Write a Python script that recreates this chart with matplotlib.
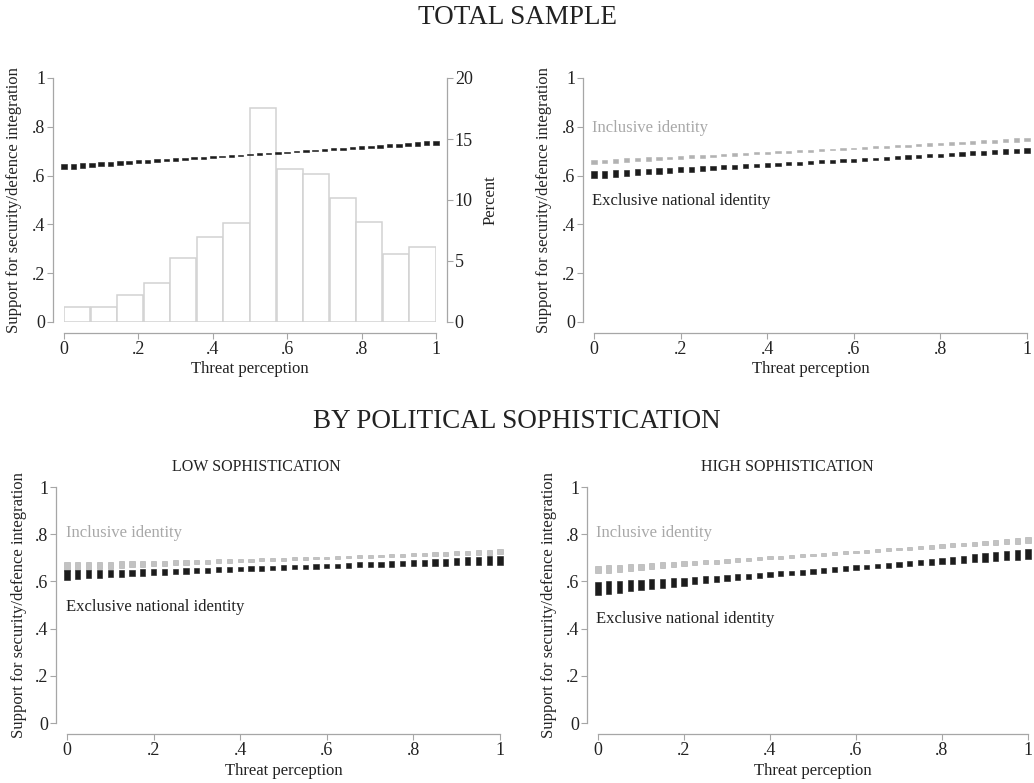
import numpy as np
import matplotlib
matplotlib.use("Agg")
import matplotlib.pyplot as plt

plt.rcParams['font.family'] = ['Liberation Serif', 'DejaVu Serif']

# threat perception values at which the margins were evaluated
threat = [0.0, 0.025, 0.05, 0.075, 0.1, 0.125, 0.15, 0.175, 0.2, 0.225,
          0.25, 0.275, 0.3, 0.325, 0.35, 0.375, 0.4, 0.425, 0.45, 0.475,
          0.5, 0.525, 0.55, 0.575, 0.6, 0.625, 0.65, 0.675, 0.7, 0.725,
          0.75, 0.775, 0.8, 0.825, 0.85, 0.875, 0.9, 0.925, 0.95, 0.975, 1.0]

# histogram of threat perception (percent)
hist_edges = [0, .0714, .1429, .2143, .2857, .3571, .4286, .5,
              .5714, .6429, .7143, .7857, .8571, .9286, 1]
hist_pct = [1.2, 1.2, 2.25, 3.2, 5.25, 7.0, 8.15, 17.5,
            12.5, 12.1, 10.15, 8.2, 5.55, 6.15]

# total sample: predicted support and half-width of the 95% CI
total_m = [.636, .638, .641, .643, .646, .648, .651, .653, .656, .658,
           .661, .663, .666, .668, .671, .673, .676, .678, .681, .683,
           .686, .688, .690, .693, .695, .698, .700, .703, .705, .708,
           .710, .713, .715, .718, .720, .723, .725, .728, .730, .733, .735]
total_ci = [.0106, .0099, .0093, .0086, .0081, .0075, .0070, .0065, .0061, .0056,
            .0053, .0049, .0046, .0043, .0040, .0038, .0036, .0034, .0033, .0031,
            .0031, .0030, .0030, .0030, .0031, .0031, .0033, .0034, .0036, .0038,
            .0040, .0043, .0046, .0049, .0053, .0056, .0061, .0065, .0070, .0075, .0081]

# total sample by identity
incl_m = [.656, .658, .661, .663, .665, .668, .670, .672, .674, .677,
          .679, .681, .684, .686, .688, .691, .693, .695, .697, .700,
          .702, .704, .707, .709, .711, .714, .716, .718, .720, .723,
          .725, .727, .730, .732, .734, .737, .739, .741, .743, .746, .748]
incl_ci = [.0082, .0079, .0075, .0072, .0068, .0065, .0062, .0060, .0057, .0055,
           .0053, .0051, .0049, .0047, .0046, .0044, .0043, .0042, .0041, .0041,
           .0040, .0040, .0040, .0040, .0040, .0041, .0041, .0042, .0043, .0044,
           .0046, .0047, .0049, .0051, .0053, .0055, .0057, .0060, .0062, .0065, .0068]
excl_m = [.604, .606, .609, .611, .614, .616, .619, .621, .624, .626,
          .629, .631, .634, .636, .639, .641, .644, .646, .649, .651,
          .654, .656, .658, .661, .663, .666, .668, .671, .673, .676,
          .678, .681, .683, .686, .688, .691, .693, .696, .698, .701, .703]
excl_ci = [.0145, .0138, .0131, .0125, .0119, .0113, .0107, .0102, .0097, .0093,
           .0088, .0084, .0081, .0077, .0074, .0072, .0069, .0067, .0065, .0063,
           .0062, .0061, .0060, .0060, .0060, .0060, .0061, .0062, .0063, .0064,
           .0066, .0068, .0070, .0073, .0076, .0079, .0083, .0087, .0091, .0095, .0100]

# low sophistication
low_incl_m = [.663, .665, .666, .668, .669, .671, .672, .674, .675, .677,
              .679, .680, .682, .683, .685, .686, .688, .689, .691, .692,
              .694, .696, .697, .699, .700, .702, .703, .705, .706, .708,
              .710, .711, .713, .714, .716, .717, .719, .720, .722, .723, .725]
low_incl_ci = [.0185, .0175, .0165, .0155, .0146, .0138, .0129, .0122, .0114, .0107,
               .0101, .0095, .0089, .0084, .0079, .0075, .0071, .0068, .0064, .0062,
               .0060, .0058, .0056, .0056, .0055, .0055, .0055, .0056, .0057, .0059,
               .0061, .0064, .0066, .0070, .0073, .0078, .0082, .0087, .0093, .0099, .0105]
low_excl_m = [.627, .629, .630, .632, .633, .635, .636, .638, .640, .641,
              .643, .644, .646, .647, .649, .651, .652, .654, .655, .657,
              .659, .660, .662, .663, .665, .666, .668, .670, .671, .673,
              .674, .676, .677, .679, .681, .682, .684, .685, .687, .688, .690]
low_excl_ci = [.0195, .0185, .0175, .0166, .0157, .0149, .0141, .0134, .0128, .0122,
               .0116, .0111, .0107, .0103, .0099, .0097, .0094, .0092, .0091, .0090,
               .0090, .0090, .0091, .0092, .0094, .0097, .0099, .0103, .0107, .0111,
               .0116, .0122, .0128, .0134, .0141, .0149, .0157, .0166, .0175, .0185, .0195]

# high sophistication
high_incl_m = [.650, .653, .656, .659, .662, .666, .669, .672, .675, .678,
               .681, .684, .687, .690, .694, .697, .700, .703, .706, .709,
               .712, .715, .718, .722, .725, .728, .731, .734, .737, .740,
               .743, .746, .750, .753, .756, .759, .762, .765, .768, .771, .775]
high_incl_ci = [.0165, .0156, .0147, .0138, .0130, .0122, .0115, .0108, .0102, .0096,
                .0090, .0085, .0080, .0076, .0072, .0068, .0065, .0063, .0060, .0058,
                .0057, .0056, .0055, .0055, .0055, .0056, .0057, .0058, .0060, .0063,
                .0065, .0068, .0072, .0076, .0080, .0085, .0090, .0096, .0102, .0108, .0115]
high_excl_m = [.570, .574, .577, .581, .585, .588, .592, .596, .599, .603,
               .607, .610, .614, .617, .621, .625, .628, .632, .636, .639,
               .643, .647, .650, .654, .658, .661, .665, .669, .672, .676,
               .680, .683, .687, .690, .694, .698, .701, .705, .709, .712, .716]
high_excl_ci = [.0280, .0263, .0247, .0232, .0218, .0204, .0191, .0179, .0168, .0158,
                .0148, .0139, .0131, .0124, .0118, .0112, .0107, .0103, .0100, .0098,
                .0096, .0095, .0095, .0096, .0097, .0100, .0103, .0107, .0112, .0117,
                .0123, .0131, .0138, .0147, .0157, .0167, .0178, .0190, .0203, .0216, .0230]

ticks = [0, .2, .4, .6, .8, 1]
tick_labels = ['0', '.2', '.4', '.6', '.8', '1']

DARK = '#1c1c1c'
GREY = '#b2b2b2'
AXIS = '#a6a6a6'
TEXT = '#222222'
W, H = 1034, 783


def px_axes(fig, x0, x1, ytop, ybot):
    # place an axes so that data 0..1 sits on the given pixel box
    return fig.add_axes([x0 / W, (H - ybot) / H, (x1 - x0) / W, (ybot - ytop) / H])


def style(ax, ylab_x, xlab_y):
    ax.set_xlim(0, 1)
    ax.set_ylim(0, 1)
    ax.patch.set_visible(False)
    for s in ['top', 'right']:
        ax.spines[s].set_visible(False)
    for s in ['left', 'bottom']:
        ax.spines[s].set_position(('outward', 8))
        ax.spines[s].set_bounds(0, 1)
        ax.spines[s].set_color(AXIS)
        ax.spines[s].set_linewidth(0.9)
    ax.set_xticks(ticks)
    ax.set_xticklabels(tick_labels)
    ax.set_yticks(ticks)
    ax.set_yticklabels(tick_labels)
    ax.tick_params(direction='out', length=4, width=0.8, color=AXIS,
                   labelsize=13, labelcolor=TEXT, pad=1.5)
    ax.set_ylabel('Support for security/defence integration', fontsize=12, color=TEXT)
    ax.set_xlabel('Threat perception', fontsize=12, color=TEXT)
    ax.yaxis.set_label_coords(ylab_x, 0.5)
    ax.xaxis.set_label_coords(0.5, xlab_y)


def draw_ci(ax, margin, half, width, face, edge):
    m = np.array(margin)
    h = np.array(half)
    ax.bar(threat, 2 * h, bottom=m - h, width=width, color=face,
           edgecolor=edge, linewidth=0.4, clip_on=False, zorder=3)


fig = plt.figure(figsize=(W / 100, H / 100), dpi=100)

fig.text(517 / W, 1 - 18 / H, 'TOTAL SAMPLE', ha='center', va='center',
         fontsize=19.5, color=TEXT)
fig.text(517 / W, 1 - 421 / H, 'BY POLITICAL SOPHISTICATION', ha='center',
         va='center', fontsize=19.5, color=TEXT)
fig.text(256 / W, 1 - 467 / H, 'LOW SOPHISTICATION', ha='center', va='center',
         fontsize=11.5, color=TEXT)
fig.text(787 / W, 1 - 467 / H, 'HIGH SOPHISTICATION', ha='center', va='center',
         fontsize=11.5, color=TEXT)

# --- top left: histogram + overall margins
ax_tl = px_axes(fig, 64, 436, 78, 322)
ax_h = ax_tl.twinx()
ax_tl.set_zorder(ax_h.get_zorder() + 1)
ax_h.bar(hist_edges[:-1], hist_pct, width=np.diff(hist_edges) * 0.985,
         align='edge', facecolor='white', edgecolor='#d2d2d2', linewidth=1.1)
ax_h.set_ylim(0, 20)
ax_h.set_yticks([0, 5, 10, 15, 20])
for s in ['top', 'left', 'bottom']:
    ax_h.spines[s].set_visible(False)
ax_h.spines['right'].set_position(('outward', 8))
ax_h.spines['right'].set_bounds(0, 20)
ax_h.spines['right'].set_color(AXIS)
ax_h.spines['right'].set_linewidth(0.9)
ax_h.tick_params(direction='out', length=4, width=0.8, color=AXIS,
                 labelsize=13, labelcolor=TEXT, pad=1.5)
ax_h.set_ylabel('Percent', fontsize=12, color=TEXT)
ax_h.yaxis.set_label_coords(1.126, 0.5)
style(ax_tl, -0.113, -0.16)
draw_ci(ax_tl, total_m, total_ci, 0.015, DARK, DARK)

# --- top right: by identity
ax_tr = px_axes(fig, 594, 1027, 78, 322)
style(ax_tr, -0.097, -0.16)
draw_ci(ax_tr, incl_m, incl_ci, 0.012, GREY, GREY)
draw_ci(ax_tr, excl_m, excl_ci, 0.012, DARK, DARK)
ax_tr.text(-0.004, 0.795, 'Inclusive identity', color='#a8a8a8', fontsize=12, va='center')
ax_tr.text(-0.004, 0.495, 'Exclusive national identity', color=TEXT, fontsize=12, va='center')

# --- bottom left: low sophistication
ax_bl = px_axes(fig, 67, 500, 487, 723)
style(ax_bl, -0.092, -0.169)
draw_ci(ax_bl, low_incl_m, low_incl_ci, 0.012, '#c2c2c2', '#a9a9a9')
draw_ci(ax_bl, low_excl_m, low_excl_ci, 0.012, DARK, DARK)
ax_bl.text(-0.002, 0.804, 'Inclusive identity', color='#a8a8a8', fontsize=12, va='center')
ax_bl.text(-0.002, 0.491, 'Exclusive national identity', color=TEXT, fontsize=12, va='center')

# --- bottom right: high sophistication
ax_br = px_axes(fig, 598, 1028, 487, 723)
style(ax_br, -0.095, -0.169)
draw_ci(ax_br, high_incl_m, high_incl_ci, 0.012, '#c2c2c2', '#a9a9a9')
draw_ci(ax_br, high_excl_m, high_excl_ci, 0.012, DARK, DARK)
ax_br.text(-0.004, 0.804, 'Inclusive identity', color='#a8a8a8', fontsize=12, va='center')
ax_br.text(-0.004, 0.441, 'Exclusive national identity', color=TEXT, fontsize=12, va='center')

fig.savefig('out.png', dpi=100)
plt.close(fig)
